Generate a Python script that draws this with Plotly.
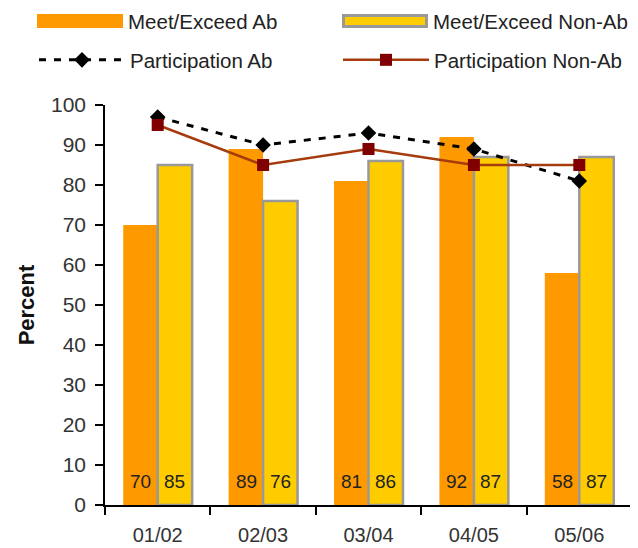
import plotly.graph_objects as go

years = ["01/02", "02/03", "03/04", "04/05", "05/06"]
meet_ab = [70, 89, 81, 92, 58]
meet_nonab = [85, 76, 86, 87, 87]
part_ab = [97, 90, 93, 89, 81]
part_nonab = [95, 85, 89, 85, 85]
label_y = 6  # data-level height of the value labels inside bars

font = "Liberation Sans, Arial, sans-serif"
ORANGE = "#FF9900"
YELLOW = "#FFCC00"
GRAY = "#999999"

# the page body adds an 8px margin, so the figure is laid out in page pixels minus 8
OFF = 8
W, H = 638 - OFF, 548 - OFF
ML, MR, MT, MB = 105 - OFF, 6, 105 - OFF, 43
PW, PH = W - ML - MR, H - MT - MB


def px_x(p):
    """page pixel x -> paper fraction"""
    return (p - OFF - ML) / PW


def px_y(p):
    """page pixel y -> paper fraction"""
    return (H - MB - (p - OFF)) / PH


fig = go.Figure()
fig.add_trace(go.Bar(
    x=years, y=meet_ab, name="Meet/Exceed Ab", showlegend=False,
    marker=dict(color=ORANGE, line=dict(width=0)),
))
fig.add_trace(go.Bar(
    x=years, y=meet_nonab, name="Meet/Exceed Non-Ab", showlegend=False,
    marker=dict(color=YELLOW, line=dict(color=GRAY, width=2.5)),
))
fig.add_trace(go.Scatter(
    x=years, y=part_ab, name="Participation Ab", mode="lines+markers",
    line=dict(color="black", width=3, dash="7px,8px"),
    marker=dict(symbol="diamond", size=12, color="black"),
    legend="legend",
))
fig.add_trace(go.Scatter(
    x=years, y=part_nonab, name="Participation Non-Ab", mode="lines+markers",
    line=dict(color="#A63C0E", width=2.5),
    marker=dict(symbol="square", size=12, color="#800000"),
    legend="legend2",
))

# value labels at the foot of each bar
annotations = []
for i, yr in enumerate(years):
    for vals, shift in ((meet_ab, -17), (meet_nonab, 17)):
        annotations.append(dict(
            x=yr, y=label_y, xref="x", yref="y", text=str(vals[i]),
            showarrow=False, xshift=shift, yanchor="middle",
            font=dict(size=19, color="#222", family=font),
        ))

# row 1 of the legend (wide rectangles)
legend_font = dict(size=20.5, color="#222", family=font)
shapes = [
    dict(type="rect", xref="paper", yref="paper",
         x0=px_x(37), x1=px_x(123), y0=px_y(28), y1=px_y(14),
         fillcolor=ORANGE, line=dict(width=0)),
    dict(type="rect", xref="paper", yref="paper",
         x0=px_x(343.5), x1=px_x(426.5), y0=px_y(26.5), y1=px_y(15.5),
         fillcolor=YELLOW, line=dict(color=GRAY, width=3)),
]
annotations += [
    dict(x=px_x(126), y=px_y(21), xref="paper", yref="paper", text="Meet/Exceed Ab",
         showarrow=False, xanchor="left", yanchor="middle", font=legend_font),
    dict(x=px_x(431), y=px_y(21), xref="paper", yref="paper", text="Meet/Exceed Non-Ab",
         showarrow=False, xanchor="left", yanchor="middle", font=legend_font),
]

fig.update_layout(
    width=W, height=H,
    margin=dict(l=ML, r=MR, t=MT, b=MB),
    paper_bgcolor="white", plot_bgcolor="white",
    font=dict(family=font, size=20, color="#333"),
    barmode="group", bargap=0.346, bargroupgap=0,
    showlegend=True,
    legend=dict(
        orientation="h", x=px_x(34), y=px_y(60), xanchor="left", yanchor="middle",
        itemwidth=86, font=legend_font, bgcolor="rgba(0,0,0,0)",
    ),
    legend2=dict(
        orientation="h", x=px_x(338), y=px_y(60), xanchor="left", yanchor="middle",
        itemwidth=86, font=legend_font, bgcolor="rgba(0,0,0,0)",
    ),
    shapes=shapes,
    annotations=annotations,
    xaxis=dict(
        automargin=False, range=[-0.5, len(years) - 0.5],
        showline=True, linecolor="black", linewidth=1.5,
        ticks="outside", ticklen=8, tickcolor="black", tickwidth=1.5, tickson="boundaries",
        tickfont=dict(size=20, color="#333"), ticklabelstandoff=11,
    ),
    yaxis=dict(
        automargin=False, range=[0, 100], dtick=10, showgrid=False, zeroline=False,
        showline=True, linecolor="black", linewidth=1.5,
        ticks="outside", ticklen=8, tickcolor="black", tickwidth=1.5,
        tickfont=dict(size=21, color="#333"), ticklabelstandoff=5,
        title=dict(text="<b>Percent</b>", font=dict(size=22, color="#111"), standoff=10),
    ),
    xaxis2=dict(
        overlaying="x", range=[-0.5, len(years) - 0.5], showgrid=False, zeroline=False,
        tickmode="array", tickvals=[i - 0.5 for i in range(len(years) + 1)],
        ticks="inside", ticklen=7, tickcolor="black", tickwidth=1.5,
        showticklabels=False, showline=False,
    ),
    yaxis2=dict(
        overlaying="y", range=[0, 100], dtick=10, showgrid=False, zeroline=False,
        ticks="inside", ticklen=8, tickcolor="black", tickwidth=1.5,
        showticklabels=False, showline=False,
    ),
)

fig.write_html("out.html")
